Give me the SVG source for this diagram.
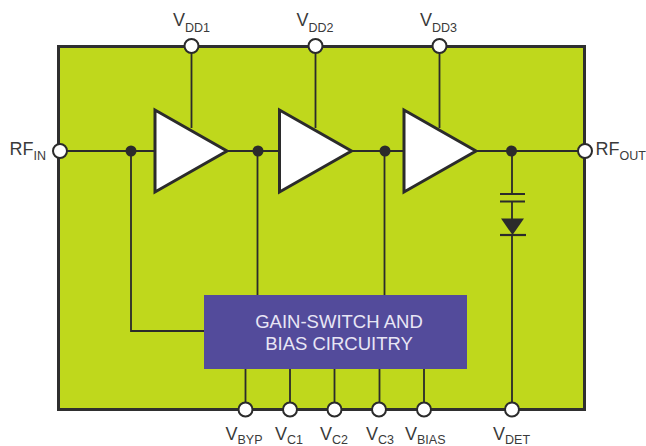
<svg xmlns="http://www.w3.org/2000/svg" width="646" height="446" viewBox="0 0 646 446">
<style>
.w{fill:none;stroke:#2b2b2b;stroke-width:1.8}
.b{fill:none;stroke:#2b2b2b;stroke-width:2.2}
.p{fill:#fff;stroke:#2b2b2b;stroke-width:2}
.amp{fill:#fff;stroke:#2b2b2b;stroke-width:3}
.dot{fill:#2b2b2b}
.l{font-family:"Liberation Sans",Arial,sans-serif;font-size:18px;fill:#3a3a3a}
.s{font-size:12.5px}
.c{font-family:"Liberation Sans",Arial,sans-serif;font-size:18.5px;fill:#e8e6f5;text-anchor:middle}
</style>
<rect id="chip" x="58.5" y="46.5" width="526" height="363" fill="#bfd81c" stroke="#2f2f2f" stroke-width="3"/>
<g id="connectors">
<path class="w" d="M60 151H155M228 151H279M352 151H404M477 151H585"/>
<path class="w" d="M191.500 46V128M315.500 46V128M439.500 46V128"/>
<path class="w" d="M131 151V331H205M257.500 151V296M384.500 151V296"/>
<path class="w" d="M245.500 368V409M290 368V409M334.500 368V409M379.500 368V409M424 368V409"/>
<path class="w" d="M512 151V194M512 201V219M512 235V409"/>
<path class="w" d="M500 194H525M500 201.500H525"/>
<path d="M501 218.500H524L512.500 235Z" class="dot"/>
<path d="M500 235H526" class="b"/>
<circle class="dot" cx="131" cy="151" r="5.500"/>
<circle class="dot" cx="258" cy="151" r="5.500"/>
<circle class="dot" cx="385" cy="151" r="5.500"/>
<circle class="dot" cx="511.500" cy="151" r="5.500"/>
</g>
<g id="amp1"><path class="amp" d="M155 110V192L227 151Z"/></g>
<g id="amp2"><path class="amp" d="M279.500 110V192L351.500 151Z"/></g>
<g id="amp3"><path class="amp" d="M404 110V192L476 151Z"/></g>
<g id="circuit"><rect x="204" y="295" width="263" height="74" fill="#534b9b"/>
<text class="c" x="339" y="328">GAIN-SWITCH AND</text>
<text class="c" x="339" y="350">BIAS CIRCUITRY</text></g>
<g id="rfin"><circle class="p" cx="60" cy="151" r="7"/><text class="l" x="9.500" y="155">RF<tspan class="s" dy="5">IN</tspan></text></g>
<g id="rfout"><circle class="p" cx="585" cy="151" r="7"/><text class="l" x="595.500" y="155">RF<tspan class="s" dy="5">OUT</tspan></text></g>
<g id="vdd1"><circle class="p" cx="191.500" cy="46" r="7"/><text class="l" x="173" y="26">V<tspan class="s" dy="6">DD1</tspan></text></g>
<g id="vdd2"><circle class="p" cx="315.500" cy="46" r="7"/><text class="l" x="296.500" y="26">V<tspan class="s" dy="6">DD2</tspan></text></g>
<g id="vdd3"><circle class="p" cx="439.500" cy="46" r="7"/><text class="l" x="420" y="26">V<tspan class="s" dy="6">DD3</tspan></text></g>
<g id="vbyp"><circle class="p" cx="245.500" cy="409.500" r="7"/><text class="l" x="225.500" y="440">V<tspan class="s" dy="4">BYP</tspan></text></g>
<g id="vc1"><circle class="p" cx="290" cy="409.500" r="7"/><text class="l" x="275" y="440">V<tspan class="s" dy="4">C1</tspan></text></g>
<g id="vc2"><circle class="p" cx="334.500" cy="409.500" r="7"/><text class="l" x="320" y="440">V<tspan class="s" dy="4">C2</tspan></text></g>
<g id="vc3"><circle class="p" cx="379" cy="409.500" r="7"/><text class="l" x="366" y="440">V<tspan class="s" dy="4">C3</tspan></text></g>
<g id="vbias"><circle class="p" cx="424" cy="409.500" r="7"/><text class="l" x="405" y="440">V<tspan class="s" dy="4">BIAS</tspan></text></g>
<g id="vdet"><circle class="p" cx="512" cy="409.500" r="7"/><text class="l" x="493" y="440">V<tspan class="s" dy="4">DET</tspan></text></g>
</svg>
